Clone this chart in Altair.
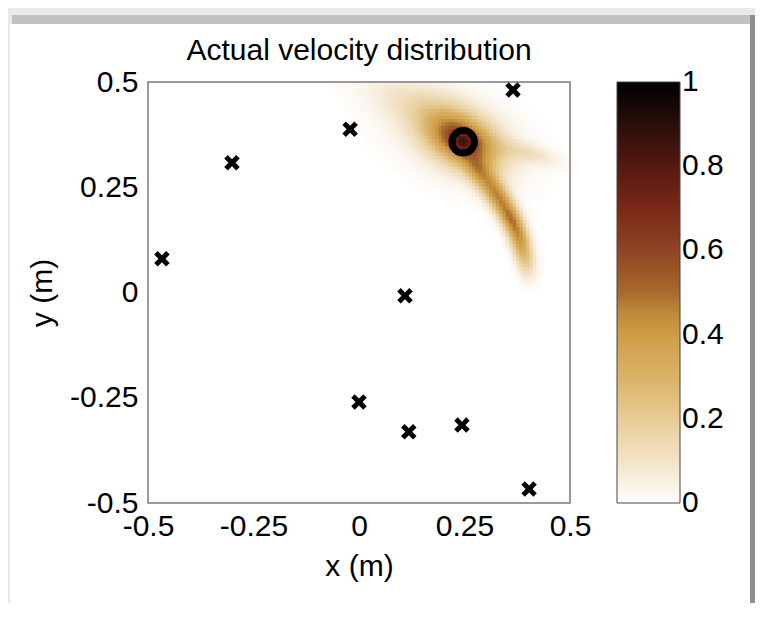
import numpy as np
import pandas as pd
import altair as alt

# ---------------- data ----------------
title_text = "Actual velocity distribution"
x_ticks = [-0.5, -0.25, 0, 0.25, 0.5]
y_ticks = [-0.5, -0.25, 0, 0.25, 0.5]
cbar_ticks = [0.0005, 0.2, 0.4, 0.6, 0.8, 0.9995]

# sensor positions (black crosses)
sensor_x = [0.365, -0.021, -0.301, -0.467, 0.109, 0.000, 0.118, 0.244, 0.403]
sensor_y = [0.481, 0.388, 0.308, 0.080, -0.008, -0.260, -0.331, -0.315, -0.467]

# source position (black ring)
source_x = [0.247]
source_y = [0.358]

# elongated blobs that make up the velocity density field
blob_cx = [0.247, 0.245, 0.228, 0.140, 0.400, 0.282, 0.310, 0.334, 0.358, 0.377, 0.389, 0.398]
blob_cy = [0.358, 0.360, 0.372, 0.448, 0.331, 0.291, 0.255, 0.220, 0.179, 0.137, 0.096, 0.058]
blob_sa = [0.015, 0.060, 0.105, 0.095, 0.050, 0.026, 0.026, 0.026, 0.026, 0.026, 0.026, 0.026]
blob_sb = [0.015, 0.036, 0.060, 0.035, 0.015, 0.019, 0.019, 0.018, 0.017, 0.016, 0.016, 0.016]
blob_ang = [0, -30, -25, -20, -15, -52, -54, -58, -63, -70, -75, -77]
blob_amp = [0.22, 0.50, 0.14, 0.08, 0.10, 0.22, 0.26, 0.31, 0.37, 0.32, 0.21, 0.10]

# colormap stops
cmap_dom = [0, 0.1, 0.2, 0.3, 0.4, 0.44, 0.5, 0.6, 0.7, 0.8, 0.9, 1]
cmap_col = ["#ffffff", "#f2e3c8", "#e7cc96", "#dab266", "#cf9d45", "#c4903c",
            "#a86a2e", "#8e4522", "#7a2818", "#551812", "#2a0e0a", "#000000"]

# ---------------- build the field grid ----------------
N = 125
edges = np.linspace(-0.5, 0.5, N + 1)
cell = edges[1] - edges[0]
cx = (edges[:-1] + edges[1:]) / 2
GX, GY = np.meshgrid(cx, cx)
field = np.zeros_like(GX)
for x0, y0, sa, sb, ang, amp in zip(blob_cx, blob_cy, blob_sa, blob_sb, blob_ang, blob_amp):
    t = np.deg2rad(ang)
    dx, dy = GX - x0, GY - y0
    u = dx * np.cos(t) + dy * np.sin(t)
    v = -dx * np.sin(t) + dy * np.cos(t)
    field += amp * np.exp(-0.5 * ((u / sa) ** 2 + (v / sb) ** 2))
field = np.clip(field, 0, 1)

ix, iy = np.nonzero(field.T >= 0.006)
heat = pd.DataFrame({
    "x0": edges[ix], "x1": edges[ix] + cell * 1.2,
    "y0": edges[iy], "y1": edges[iy] + cell * 1.2,
    "v": field.T[ix, iy],
})
heat["x1"] = heat["x1"].clip(upper=0.5)
heat["y1"] = heat["y1"].clip(upper=0.5)

sensors = pd.DataFrame({"x": sensor_x, "y": sensor_y})
source = pd.DataFrame({"x": source_x, "y": source_y})
one = pd.DataFrame({"k": [0]})

W, H = 422, 421
xs = alt.Scale(domain=[-0.5, 0.5], nice=False, zero=False)
ys = alt.Scale(domain=[-0.5, 0.5], nice=False, zero=False)

def frame(x, x2, y, y2, color):
    return alt.Chart(one).mark_rect(color=color, strokeWidth=0).encode(
        x=alt.value(x), x2=alt.value(x2), y=alt.value(y), y2=alt.value(y2))

frames = [
    frame(-136, 612, -67, -58, "#c2c2c2"),
    frame(602, 612, -67, 531, "#8e8e8e"),
    frame(-138, 612, 524, 531, "#b5b5b5"),
    frame(-138, 602, -58, 524, "#ffffff"),
]

lbl = "'' + datum.value"
heatmap = alt.Chart(heat).mark_rect(strokeWidth=0).encode(
    x=alt.X("x0:Q", scale=xs, title="x (m)",
            axis=alt.Axis(values=x_ticks, labelExpr=lbl, zindex=2)),
    x2="x1:Q",
    y=alt.Y("y0:Q", scale=ys, title="y (m)",
            axis=alt.Axis(values=y_ticks, labelExpr=lbl, zindex=2)),
    y2="y1:Q",
    color=alt.Color("v:Q",
                    scale=alt.Scale(domain=cmap_dom, range=cmap_col, interpolate="rgb", clamp=True),
                    legend=alt.Legend(values=cbar_ticks, title=None,
                                      labelExpr="'' + round(datum.value*5)/5")),
)

box = alt.Chart(one).mark_rect(fill=None, stroke="#7a7a7a", strokeWidth=1.5).encode(
    x=alt.datum(-0.5, scale=xs), x2=alt.datum(0.5),
    y=alt.datum(-0.5, scale=ys), y2=alt.datum(0.5))

xshape = "M-1,-0.55L-0.55,-1L0,-0.45L0.55,-1L1,-0.55L0.45,0L1,0.55L0.55,1L0,0.45L-0.55,1L-1,0.55L-0.45,0Z"
crosses = alt.Chart(sensors).mark_point(shape=xshape, filled=True, color="black",
                                        size=240, opacity=1).encode(
    x=alt.X("x:Q", scale=xs), y=alt.Y("y:Q", scale=ys))

ring = alt.Chart(source).mark_point(shape="circle", filled=False, stroke="black",
                                    strokeWidth=7, size=500, opacity=1).encode(
    x=alt.X("x:Q", scale=xs), y=alt.Y("y:Q", scale=ys))

chart = alt.layer(*frames, heatmap, box, crosses, ring).properties(
    width=W, height=H,
    title=alt.TitleParams(title_text, fontSize=30, font="Liberation Sans", fontWeight="normal",
                          color="black", anchor="middle", baseline="alphabetic", offset=-75,
                          frame="group", zindex=2),
    autosize=alt.AutoSizeParams(type="none"),
    padding={"left": 140, "top": 74, "right": 185, "bottom": 100},
).configure(background="#e9e9e9").configure_view(stroke=None).configure_axis(
    labelFont="Liberation Sans", labelFontSize=30, labelColor="black",
    titleFont="Liberation Sans", titleFontSize=30, titleFontWeight="normal", titleColor="black",
    domain=False, ticks=False, grid=False, labelOverlap=False, labelFlush=False,
).configure_axisX(labelPadding=8, titlePadding=10).configure_axisY(
    labelPadding=10, titlePadding=12).configure_legend(
    orient="right", offset=47, padding=0, gradientLength=421, gradientThickness=63,
    gradientStrokeColor="#444", gradientStrokeWidth=1,
    labelFont="Liberation Sans", labelFontSize=30, labelColor="black", labelOffset=10,
    labelBaseline="middle", labelOverlap=False, zindex=1,
)

chart.save("out.html", embed_options={"renderer": "svg", "actions": False})
